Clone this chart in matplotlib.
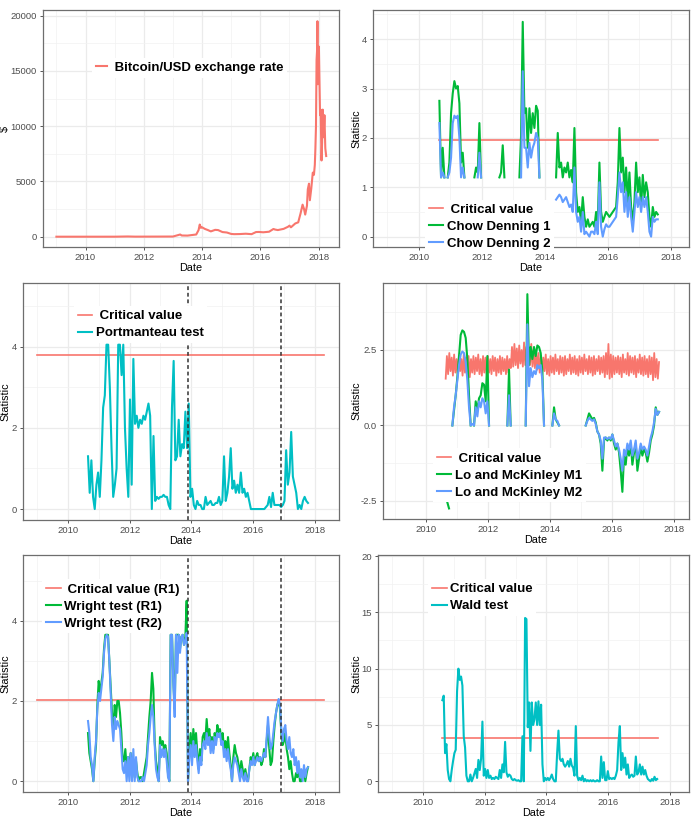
import numpy as np
import matplotlib
matplotlib.use('Agg')
import matplotlib.pyplot as plt
from matplotlib.lines import Line2D

plt.rcParams['font.family'] = ['Liberation Sans', 'DejaVu Sans']
plt.rcParams['axes.unicode_minus'] = False

nan = np.nan

# ---------------- data ----------------
# Bitcoin / USD
btc_year = [2009.0, 2010.0, 2011.0, 2011.45, 2011.7, 2012.5, 2013.0, 2013.25, 2013.3, 2013.5,
            2013.8, 2013.88, 2013.92, 2013.96, 2014.0, 2014.1, 2014.2, 2014.3, 2014.45, 2014.55,
            2014.7, 2014.85, 2015.0, 2015.1, 2015.3, 2015.5, 2015.7, 2015.85, 2015.95, 2016.1,
            2016.3, 2016.45, 2016.5, 2016.6, 2016.8, 2016.95, 2017.0, 2017.05, 2017.2, 2017.3,
            2017.38, 2017.45, 2017.5, 2017.54, 2017.6, 2017.63, 2017.67, 2017.7, 2017.75, 2017.8,
            2017.84, 2017.87, 2017.89, 2017.91, 2017.93, 2017.95, 2017.96, 2017.975, 2017.99, 2018.01,
            2018.03, 2018.05, 2018.07, 2018.1, 2018.12, 2018.14, 2018.17, 2018.2, 2018.23, 2018.26]
btc_usd = [0, 0, 1, 20, 5, 10, 15, 200, 110, 100,
           200, 600, 1100, 800, 850, 700, 600, 480, 620, 600,
           420, 380, 250, 230, 240, 270, 230, 420, 430, 400,
           450, 700, 650, 600, 710, 900, 1000, 850, 1200, 1300,
           2100, 2900, 2500, 2000, 2800, 4300, 4800, 3300, 4400, 5800,
           5600, 6500, 8000, 10000, 16000, 17000, 19500, 13800, 15000, 17200,
           14000, 11000, 11500, 6900, 8500, 11500, 9000, 11000, 8000, 7300]

# Chow Denning
cd_span = [2010.655, 2017.58]
cd_crit = 1.96
cd1 = [2.75, 1.2, 1.8, 1.2, nan, 1.2, 1.5, 2.5, 2.9, 3.15,
       3.0, 3.05, 2.7, 1.5, 1.7, 1.2, nan, nan, nan, nan,
       nan, 1.2, 1.4, 1.3, 2.3, 1.2, nan, nan, nan, nan,
       nan, nan, nan, nan, nan, nan, 1.2, 1.3, 1.85, 1.2,
       nan, nan, nan, nan, nan, nan, nan, nan, 1.2, 2.05,
       4.35, 2.5, 2.6, 1.8, 2.6, 2.1, 2.5, 2.2, 2.65, 2.55,
       1.2, nan, nan, nan, nan, nan, nan, nan, nan, nan,
       1.2, 2.1, 1.4, 1.5, 1.2, 1.4, 1.3, 1.5, 1.2, 1.35,
       1.1, 2.2, 0.9, 0.5, 0.6, 0.3, 0.8, 0.4, 0.2, 0.35,
       0.2, 0.25, 0.3, 0.2, 0.5, 0.3, 1.5, 0.5, 0.3, 0.4,
       0.5, 0.45, 0.4, 0.45, 0.5, 0.55, 0.6, 1.1, 2.2, 1.3,
       1.6, 0.9, 1.4, 0.7, 1.3, 0.6, 0.3, 0.7, 1.5, 0.9,
       1.2, 0.6, 1.25, 0.8, 1.1, 0.9, 0.4, 0.2, 0.6, 0.4,
       0.5, 0.45]
cd2 = [2.3, 1.2, 1.3, 1.2, nan, 1.2, 1.3, 1.6, 2.3, 2.45,
       2.4, 2.45, 2.0, 1.2, 1.4, 1.2, nan, nan, nan, nan,
       nan, nan, nan, 1.2, 1.7, 1.2, nan, nan, nan, nan,
       nan, nan, nan, nan, nan, nan, nan, nan, nan, nan,
       nan, nan, nan, nan, nan, nan, nan, nan, nan, 1.2,
       3.35, 1.8, 1.8, 1.4, 1.9, 1.6, 1.8, 1.9, 2.1, 2.0,
       1.2, nan, nan, nan, nan, nan, nan, nan, nan, nan,
       0.75, 0.8, 0.85, 0.8, 0.7, 0.75, 0.8, 0.7, 0.6, 0.65,
       0.5, 1.4, 0.5, 0.3, 0.4, 0.1, 0.5, 0.05, 0.1, 0.05,
       0.0, 0.1, 0.1, 0.05, 0.3, 0.05, 1.1, 0.2, 0.0, 0.15,
       0.25, 0.2, 0.2, 0.25, 0.3, 0.35, 0.4, 0.8, 1.3, 0.9,
       1.1, 0.5, 0.9, 0.4, 0.8, 0.4, 0.1, 0.5, 0.9, 0.6,
       0.8, 0.5, 0.8, 0.6, 0.8, 0.5, 0.1, 0.0, 0.4, 0.3,
       0.35, 0.35]

# Portmanteau
pm_span = [2010.649, 2017.784]
pm_crit = 3.8
pm_crit_span = [2009.0, 2018.3]
breaks = [2013.89, 2016.92]
pm = [1.3, 0.4, 1.2, 0.3, 0.0, 0.6, 0.9, 0.3, 1.2, 2.5,
      2.8, 4.05, 4.05, 3.0, 1.5, 0.3, 0.6, 1.0, 4.05, 4.05,
      3.3, 4.05, 2.0, 1.0, 0.3, 2.7, 0.6, 3.7, 2.1, 2.3,
      2.0, 2.2, 2.1, 2.3, 2.2, 2.4, 2.6, 2.3, 0.0, 1.8,
      0.2, 0.3, 0.25, 0.3, 0.3, 0.35, 0.3, 0.3, 0.1, 0.0,
      2.5, 3.65, 1.2, 1.3, 2.2, 1.3, 1.6, 1.5, 2.4, 1.5,
      2.6, 0.3, 0.5, 0.1, 0.0, 0.2, 0.1, 0.1, 0.0, 0.0,
      0.3, 0.1, 0.15, 0.2, 0.1, 0.1, 0.15, 0.15, 0.3, 0.1,
      0.2, 1.3, 0.2, 0.4, 0.8, 1.5, 0.5, 0.7, 0.4, 0.6,
      0.4, 0.9, 0.4, 0.5, 0.3, 0.4, 0.2, 0.0, 0.0, 0.0,
      0.0, 0.0, 0.0, 0.0, 0.0, 0.0, 0.05, 0.1, 0.3, 0.05,
      0.4, 0.1, 0.1, 0.1, 0.1, 0.05, 0.1, 0.2, 1.45, 0.6,
      0.9, 1.9, 0.8, 0.6, 0.4, 0.0, 0.1, 0.0, 0.2, 0.3,
      0.2, 0.15]

# Lo and McKinley
lm_span = [2010.624, 2017.513]
lm_crit = [1.55, 2.3, 1.7, 2.4, 1.8, 2.25, 1.65, 2.35, 1.75, 2.2,
           1.7, 2.3, 1.8, 2.2, 1.65, 2.35, 1.75, 2.25, 1.7, 2.3, 1.6, 2.2, 1.75, 2.3,
           1.7, 2.25, 1.8, 2.35, 1.7, 2.2, 1.65, 2.3, 1.75, 2.25, 1.7, 2.3,
           1.75, 2.2, 1.7, 2.3, 1.8, 2.25, 1.65, 2.2, 1.75, 2.3, 1.7, 2.25, 1.8, 2.2,
           1.7, 2.3, 1.75, 2.2,
           1.9, 2.6, 1.95, 2.7, 2.0, 2.55, 1.9, 2.65, 2.05, 2.5, 1.95, 2.75, 2.0, 2.6,
           1.9, 2.55, 2.0, 2.7, 1.95, 2.5, 1.9, 2.45, 1.85, 2.4,
           1.75, 2.3, 1.7, 2.25, 1.8, 2.35, 1.7, 2.2, 1.65, 2.3, 1.75, 2.25, 1.7, 2.35,
           1.8, 2.2, 1.7, 2.3, 1.75, 2.25, 1.65, 2.3, 1.7, 2.2, 1.8, 2.35, 1.7, 2.25,
           1.75, 2.3, 1.7, 2.2, 1.65, 2.3, 1.75, 2.25, 1.7, 2.35, 1.8, 2.2, 1.7, 2.3,
           1.75, 2.25, 1.65, 2.3, 1.7, 2.2, 1.8, 2.3, 1.7, 2.25, 1.75, 2.3,
           1.6, 2.4, 1.7, 2.7, 1.55, 2.35, 1.6, 2.3, 1.7, 2.25,
           1.75, 2.3, 1.7, 2.25, 1.6, 2.35, 1.75, 2.2, 1.7, 2.4, 1.65, 2.3, 1.75, 2.25,
           1.7, 2.3, 1.6, 2.2, 1.75, 2.35, 1.7, 2.25, 1.65, 2.3, 1.7, 2.2, 1.6, 2.3,
           1.7, 2.25, 1.5, 2.4, 1.6, 2.2, 1.55, 2.1]
lm1 = [nan, -2.55, -2.75, nan, 0.0, 0.5, 1.0, 1.6, 2.3, 3.0,
       3.15, 3.1, 2.9, 2.2, 1.0, 0.0, nan, 0.0, 0.8, 0.5,
       0.9, 1.0, 1.4, 1.35, 0.8, 2.3, 0.0, nan, nan, nan,
       nan, nan, nan, nan, nan, nan, nan, 0.0, 1.85, 0.0,
       nan, nan, nan, nan, nan, nan, nan, nan, 0.0, 4.35,
       2.0, 2.6, 2.2, 2.6, 2.3, 2.65, 2.6, 2.4, 1.8, 0.0,
       nan, nan, nan, nan, 0.0, 0.6, 0.2, 0.1, 0.0, nan,
       nan, nan, nan, nan, nan, nan, nan, nan, nan, nan,
       nan, nan, nan, nan, 0.0, 0.2, 0.4, 0.3, 0.2, 0.25,
       0.1, -0.2, -0.3, -0.6, -1.5, -0.5, -0.4, -0.5, -0.4, -0.5,
       -0.3, -0.6, -0.8, -0.6, -0.9, -1.5, -2.2, -1.0, -1.3, -0.7,
       -1.0, -0.6, -1.3, -0.9, -0.6, -1.5, -1.1, -0.7, -1.0, -0.8,
       -0.9, -1.2, -0.9, -0.5, -0.3, 0.0, 0.6, 0.35, 0.45]
lm2 = [nan, nan, nan, nan, 0.0, 0.6, 1.0, 1.5, 2.0, 2.35,
       2.45, 2.4, 2.1, 1.5, 0.6, 0.0, 0.05, 0.0, 0.6, 0.3,
       0.8, 0.6, 0.9, 0.8, 0.4, 0.8, 0.0, nan, nan, nan,
       nan, nan, nan, nan, nan, nan, nan, 0.0, 1.0, 0.0,
       nan, nan, nan, nan, nan, nan, nan, nan, 0.0, 3.35,
       1.3, 1.9, 1.6, 1.8, 1.7, 2.0, 1.9, 2.0, 1.5, 0.0,
       nan, nan, nan, nan, 0.0, 0.4, 0.2, 0.15, 0.0, nan,
       nan, nan, nan, nan, nan, nan, nan, nan, nan, nan,
       nan, nan, nan, nan, 0.0, 0.15, 0.25, 0.2, 0.15, 0.2,
       0.05, -0.2, -0.3, -0.5, -1.1, -0.4, -0.4, -0.45, -0.4, -0.45,
       -0.3, -0.5, -0.7, -0.6, -0.8, -1.1, -1.5, -0.8, -1.0, -0.6,
       -0.8, -0.5, -1.0, -0.8, -0.5, -1.1, -0.9, -0.6, -0.8, -0.7,
       -0.8, -1.0, -0.7, -0.4, -0.2, 0.1, 0.55, 0.35, 0.45]

# Wright
wr_span = [2010.649, 2017.784]
wr_crit = 2.03
wr_crit_span = [2009.0, 2018.29]
wr1 = [1.2, 0.7, 0.5, 0.3, 0.0, 0.5, 0.9, 1.9, 2.5, 2.2,
       2.45, 2.7, 3.3, 3.65, 3.65, 3.65, 3.0, 2.4, 1.7, 1.3,
       1.9, 1.6, 2.0, 2.0, 1.7, 1.2, 0.5, 0.5, 0.8, 0.3,
       0.6, 0.4, 0.7, 0.2, 0.5, 0.1, 0.5, 0.2, 0.0, 0.1,
       0.1, 0.0, 0.2, 0.4, 0.6, 1.1, 1.6, 2.0, 2.7, 2.3,
       1.0, 0.5, 0.3, 0.0, 1.1, 0.9, 1.0, 0.8, 0.9, 0.7,
       0.2, 0.0, 3.65, 3.65, 2.5, 1.8, 3.65, 3.65, 3.65, 3.3,
       3.6, 3.65, 3.4, 3.6, 4.5, 0.0, 0.8, 1.2, 0.6, 1.3,
       0.9, 1.2, 0.7, 0.3, 0.8, 0.5, 1.1, 1.2, 1.0, 1.55,
       1.1, 1.3, 0.9, 1.1, 0.8, 1.2, 1.0, 1.4, 1.2, 1.3,
       1.0, 1.2, 0.8, 1.0, 0.6, 1.1, 0.7, 0.4, 0.0, 0.6,
       0.9, 0.7, 0.6, 0.4, 0.2, 0.5, 0.3, 0.1, 0.3, 0.1,
       0.0, 0.3, 0.6, 0.5, 0.7, 0.4, 0.6, 0.7, 0.5, 0.6,
       0.4, 0.5, 0.8, 0.6, 1.0, 1.4, 0.8, 0.4, 0.5, 1.0,
       1.4, 1.7, 1.9, 2.0, 1.8, 1.2, 0.9, 1.0, 1.2, 0.8,
       0.6, 0.3, 0.5, 0.2, 0.0, 0.0, 0.2, 0.1, 0.3, 0.0,
       0.0, 0.1, 0.3, 0.0, 0.2, 0.35]
wr2 = [1.5, 1.2, 0.6, 0.4, 0.0, 0.6, 1.0, 1.8, 2.2, 2.0,
       2.3, 2.6, 3.2, 3.55, 3.65, 3.6, 3.0, 2.2, 1.4, 1.0,
       1.6, 1.3, 1.5, 1.4, 1.3, 0.8, 0.3, 0.2, 0.5, 0.0,
       0.6, 0.0, 0.7, 0.0, 0.8, 0.0, 0.6, 0.1, 0.0, 0.0,
       0.0, 0.1, 0.0, 0.2, 0.4, 0.9, 1.2, 1.6, 1.9, 1.6,
       0.9, 0.3, 0.1, 0.0, 0.9, 0.6, 0.8, 0.6, 0.8, 0.5,
       0.1, 0.0, 3.65, 3.65, 2.4, 1.6, 3.65, 2.7, 3.65, 3.2,
       3.6, 3.65, 3.4, 3.5, 3.7, 0.0, 0.6, 0.9, 0.4, 1.0,
       0.6, 0.9, 0.5, 0.2, 0.6, 0.4, 0.9, 1.0, 0.8, 1.2,
       0.9, 1.1, 0.7, 1.0, 0.7, 1.1, 0.9, 1.2, 1.1, 1.2,
       0.9, 1.0, 0.6, 0.8, 0.5, 0.8, 0.5, 0.3, 0.0, 0.4,
       0.6, 0.5, 0.4, 0.2, 0.0, 0.3, 0.1, 0.0, 0.2, 0.0,
       0.0, 0.3, 0.5, 0.4, 0.6, 0.4, 0.5, 0.6, 0.5, 0.6,
       0.5, 0.6, 0.7, 0.6, 1.1, 1.6, 1.1, 0.8, 0.9, 1.2,
       1.5, 1.7, 1.9, 2.05, 1.9, 1.3, 1.0, 1.3, 1.4, 1.0,
       0.8, 1.1, 0.7, 0.6, 0.8, 0.4, 0.6, 0.2, 0.5, 0.1,
       0.3, 0.0, 0.4, 0.1, 0.3, 0.35]

# Wald
wd_span = [2010.627, 2017.589]
wd_crit = 3.84
wd_crit_span = [2010.63, 2017.63]
wald = [7.2, 7.6, 2.5, 3.3, 1.0, 0.2, 0.0, 1.0, 1.8, 2.5,
        2.8, 8.0, 10.0, 9.0, 9.3, 8.5, 4.0, 3.0, 0.5, 0.0,
        0.0, 0.6, 0.0, 0.3, 0.7, 1.1, 0.3, 1.9, 1.0, 2.0,
        5.3, 0.5, 1.1, 0.3, 1.0, 0.3, 0.5, 0.2, 0.3, 0.2,
        0.4, 0.3, 0.2, 1.0, 0.3, 1.5, 0.8, 3.5, 0.8, 0.4,
        0.6, 0.5, 0.2, 0.1, 0.2, 0.1, 0.05, 0.1, 0.0, 0.0,
        4.0, 0.0, 14.5, 14.4, 4.8, 7.0, 2.7, 7.0, 5.0, 5.5,
        7.0, 5.0, 7.1, 5.0, 6.8, 1.5, 0.0, 0.3, 0.1, 0.3,
        0.1, 0.3, 0.6, 0.2, 0.0, 0.0, 2.5, 4.5, 2.0, 1.8,
        2.0, 1.5, 1.3, 1.5, 1.8, 1.3, 2.0, 1.4, 1.2, 0.5,
        4.9, 0.5, 0.1, 0.3, 0.1, 0.5, 0.0, 0.2, 0.0, 0.1,
        0.0, 0.1, 0.0, 0.1, 0.0, 0.0, 0.1, 0.0, 0.0, 2.2,
        0.3, 1.7, 0.1, 0.1, 0.9, 0.2, 0.3, 0.2, 0.3, 0.2,
        0.5, 1.0, 3.5, 4.9, 1.0, 2.5, 1.2, 2.1, 0.6, 1.5,
        0.3, 0.5, 0.6, 0.4, 0.5, 2.2, 0.6, 0.8, 1.5, 0.6,
        1.3, 0.6, 1.0, 0.5, 0.2, 0.1, 0.0, 0.2, 0.05, 0.4,
        0.1, 0.2]

x_major = [2010, 2012, 2014, 2016, 2018]
x_minor = [2009, 2011, 2013, 2015, 2017]

# ---------------- drawing ----------------
RED, GREEN, BLUE, CYAN = '#F8766D', '#00BA38', '#619CFF', '#00BFC4'
W, H = 693, 822
fig = plt.figure(figsize=(W / 100, H / 100), dpi=100)


def make_axes(x0, y0, x1, y1, xlim, ylim, yticks, yminor, ylabels, ylabel, ylab_px):
    ax = fig.add_axes([x0 / W, 1 - y1 / H, (x1 - x0) / W, (y1 - y0) / H])
    ax.set_xlim(xlim)
    ax.set_ylim(ylim)
    ax.set_xticks(x_major)
    ax.set_xticks(x_minor, minor=True)
    ax.set_yticks(yticks)
    ax.set_yticks(yminor, minor=True)
    ax.set_yticklabels(ylabels)
    ax.set_axisbelow(True)
    ax.grid(which='major', color='#EBEBEB', lw=0.9)
    ax.grid(which='minor', color='#F2F2F2', lw=0.5)
    ax.tick_params(which='minor', length=0)
    ax.tick_params(which='major', length=2.5, width=0.7, color='#555555',
                   labelsize=6.8, labelcolor='#4D4D4D', pad=2)
    for s in ax.spines.values():
        s.set_color('#6E6E6E')
        s.set_linewidth(0.9)
    ax.set_xlabel('Date', fontsize=7.8)
    ax.xaxis.set_label_coords(0.5, -15.8 / (y1 - y0))
    ax.set_ylabel(ylabel, fontsize=7.8)
    ax.yaxis.set_label_coords((ylab_px - x0) / (x1 - x0), 0.5)
    return ax


def add_legend(ax, entries, hx, hy, hl=1.1):
    fs = 9.5
    em = fs * 100 / 72
    handles = [Line2D([], [], color=c, lw=lw) for c, lw, _ in entries]
    labels = [lab for _, _, lab in entries]
    top = hy + 3 - 0.56 * em - 0.3 * em
    leg = ax.legend(handles, labels, loc='upper left',
                    bbox_to_anchor=((hx - 0.3 * em) / W, 1 - top / H),
                    bbox_transform=fig.transFigure,
                    prop={'family': 'Liberation Sans', 'weight': 'bold', 'size': fs},
                    frameon=True, facecolor='white', edgecolor='none', framealpha=1,
                    fancybox=False, borderpad=0.3, labelspacing=0.36, handlelength=hl,
                    handletextpad=0.25, borderaxespad=0)
    leg.set_zorder(10)


def dates(span, vals):
    return np.linspace(span[0], span[1], len(vals))


LW = 1.5
CLW = 1.2

# 1: Bitcoin
ax1 = make_axes(43, 10, 339, 247, (2008.54, 2018.70), (-932, 20516),
                [0, 5000, 10000, 15000, 20000], [2500, 7500, 12500, 17500],
                ['0', '5000', '10000', '15000', '20000'], '$', 10)
ax1.plot(btc_year, btc_usd, color=RED, lw=LW)
add_legend(ax1, [(RED, LW, ' Bitcoin/USD exchange rate')], 96, 66, hl=0.85)

# 2: Chow Denning
ax2 = make_axes(373, 10, 689, 247, (2008.55, 2018.57), (-0.21, 4.59),
                [0, 1, 2, 3, 4], [0.5, 1.5, 2.5, 3.5, 4.5],
                ['0', '1', '2', '3', '4'], 'Statistic', 361.6)
ax2.plot(cd_span, [cd_crit, cd_crit], color=RED, lw=CLW)
ax2.plot(dates(cd_span, cd1), cd1, color=GREEN, lw=LW)
ax2.plot(dates(cd_span, cd2), cd2, color=BLUE, lw=LW)
add_legend(ax2, [(RED, CLW, ' Critical value'), (GREEN, LW, 'Chow Denning 1'),
                 (BLUE, LW, 'Chow Denning 2')], 428.7, 208)

# 3: Portmanteau
ax3 = make_axes(23, 283, 339, 520, (2008.54, 2018.79), (-0.27, 5.57),
                [0, 2, 4], [1, 3, 5], ['0', '2', '4'], 'Statistic', 10.6)
ax3.plot(pm_crit_span, [pm_crit, pm_crit], color=RED, lw=CLW)
ax3.plot(dates(pm_span, pm), pm, color=CYAN, lw=LW)
for b in breaks:
    ax3.axvline(b, color='#333333', lw=1.1, ls=(0, (2.5, 1.8)))
add_legend(ax3, [(RED, CLW, ' Critical value'), (CYAN, LW, 'Portmanteau test')], 77.7, 314.3)

# 4: Lo and McKinley
ax4 = make_axes(383, 283, 689, 519, (2008.60, 2018.48), (-3.1, 4.72),
                [-2.5, 0, 2.5], [-1.25, 1.25, 3.75], ['-2.5', '0.0', '2.5'],
                'Statistic', 361.6)
ax4.plot(dates(lm_span, lm_crit), lm_crit, color=RED, lw=1.3)
ax4.plot(dates(lm_span, lm1), lm1, color=GREEN, lw=LW)
ax4.plot(dates(lm_span, lm2), lm2, color=BLUE, lw=LW)
add_legend(ax4, [(RED, CLW, ' Critical value'), (GREEN, LW, 'Lo and McKinley M1'),
                 (BLUE, LW, 'Lo and McKinley M2')], 436.7, 456.7)

# 5: Wright
ax5 = make_axes(23, 555, 339, 792, (2008.54, 2018.79), (-0.27, 5.64),
                [0, 2, 4], [1, 3, 5], ['0', '2', '4'], 'Statistic', 10.6)
ax5.plot(wr_crit_span, [wr_crit, wr_crit], color=RED, lw=CLW)
ax5.plot(dates(wr_span, wr1), wr1, color=GREEN, lw=LW)
ax5.plot(dates(wr_span, wr2), wr2, color=BLUE, lw=LW)
for b in breaks:
    ax5.axvline(b, color='#333333', lw=1.1, ls=(0, (2.5, 1.8)))
add_legend(ax5, [(RED, CLW, ' Critical value (R1)'), (GREEN, LW, 'Wright test (R1)'),
                 (BLUE, LW, 'Wright test (R2)')], 46, 587.7)

# 6: Wald
ax6 = make_axes(378, 555, 689, 792, (2008.54, 2018.62), (-0.95, 20.09),
                [0, 5, 10, 15, 20], [2.5, 7.5, 12.5, 17.5],
                ['0', '5', '10', '15', '20'], 'Statistic', 361)
ax6.plot(wd_crit_span, [wd_crit, wd_crit], color=RED, lw=CLW)
ax6.plot(dates(wd_span, wald), wald, color=CYAN, lw=LW)
add_legend(ax6, [(RED, CLW, 'Critical value'), (CYAN, LW, 'Wald test')], 432, 587.3)

fig.savefig('out.png', dpi=100)
